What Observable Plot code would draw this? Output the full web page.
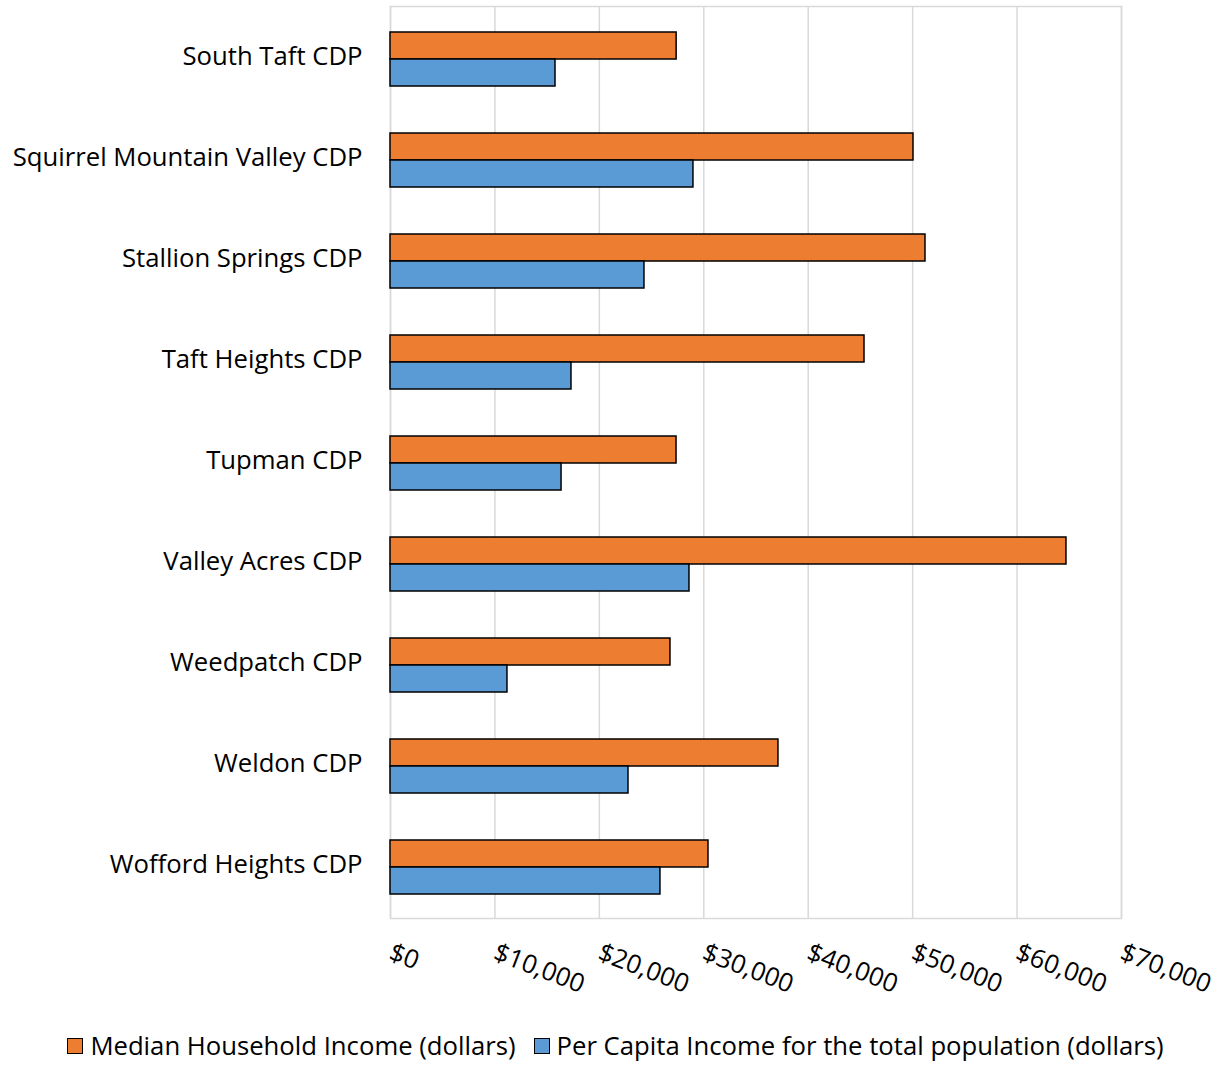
<!DOCTYPE html>
<html>
<head>
<meta charset="utf-8">
<script src="https://cdn.jsdelivr.net/npm/d3@7"></script>
<script src="https://cdn.jsdelivr.net/npm/@observablehq/plot@0.6"></script>
<style>
  body { margin: 0; background: #fff; font-family: "Open Sans", sans-serif; }
  #legend { display: flex; justify-content: center; gap: 18px; font-size: 25.7px; color: #000; margin-top: 10px; }
  .item { display: flex; align-items: center; gap: 7px; }
  .sw { width: 16px; height: 16px; border: 1.5px solid #000; box-sizing: border-box; }
</style>
</head>
<body>
<div id="chart"></div>
<div id="legend"></div>
<script>
const categories = [
  "South Taft CDP",
  "Squirrel Mountain Valley CDP",
  "Stallion Springs CDP",
  "Taft Heights CDP",
  "Tupman CDP",
  "Valley Acres CDP",
  "Weedpatch CDP",
  "Weldon CDP",
  "Wofford Heights CDP"
];
const seriesNames = ["Median Household Income (dollars)", "Per Capita Income for the total population (dollars)"];
const medianIncome = [27400, 50080, 51230, 45390, 27390, 64730, 26810, 37150, 30450];
const perCapitaIncome = [15800, 29010, 24320, 17330, 16380, 28630, 11200, 22790, 25850];
const xTicks = [0, 10000, 20000, 30000, 40000, 50000, 60000, 70000];
const colors = ["#ED7D31", "#5B9BD5"];

const median = categories.map((c, i) => ({category: c, value: medianIncome[i]}));
const perCap = categories.map((c, i) => ({category: c, value: perCapitaIncome[i]}));

const fmt = d => "$" + d3.format(",")(d);

const chart = Plot.plot({
  width: 1231,
  height: 1018,
  marginTop: 6,
  marginBottom: 100,
  marginLeft: 390,
  marginRight: 110,
  style: {fontFamily: "'Open Sans', sans-serif", fontSize: "25.7px", color: "#000", background: "#fff"},
  x: {domain: [0, 70000], ticks: xTicks},
  y: {domain: categories, padding: 0},
  marks: [
    Plot.ruleX(xTicks, {stroke: "#d9d9d9", strokeWidth: 1.5}),
    Plot.frame({stroke: "#d9d9d9", strokeWidth: 1.5}),
    Plot.barX(median, {x: "value", y: "category", fill: colors[0], stroke: "#000", strokeWidth: 1.5, insetTop: 24, insetBottom: 50}),
    Plot.barX(perCap, {x: "value", y: "category", fill: colors[1], stroke: "#000", strokeWidth: 1.5, insetTop: 51, insetBottom: 23}),
    Plot.axisX({ticks: xTicks, tickFormat: fmt, tickSize: 0, tickPadding: 33, tickRotate: 21, fontSize: 25.7, label: null}),
    Plot.axisY({tickSize: 0, tickPadding: 28, fontSize: 25.7, dy: -2, label: null})
  ]
});
document.getElementById("chart").appendChild(chart);

const legend = document.getElementById("legend");
seriesNames.forEach((name, i) => {
  const item = document.createElement("div");
  item.className = "item";
  const sw = document.createElement("div");
  sw.className = "sw";
  sw.style.background = colors[i];
  const t = document.createElement("span");
  t.textContent = name;
  item.appendChild(sw);
  item.appendChild(t);
  legend.appendChild(item);
});
</script>
</body>
</html>
